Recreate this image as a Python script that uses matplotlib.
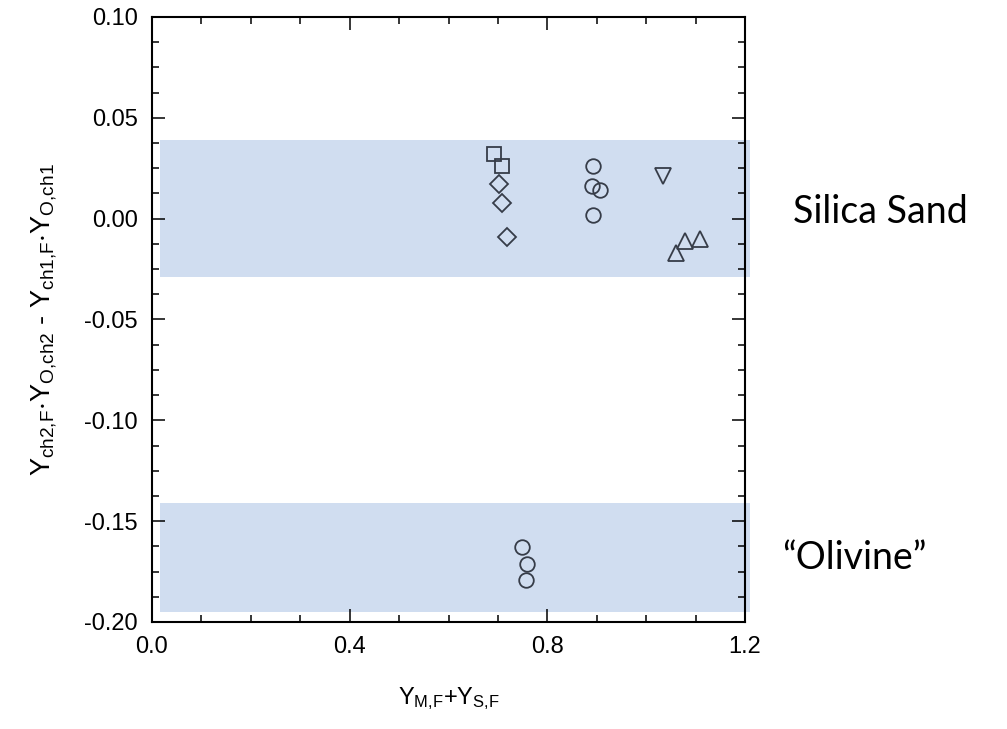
import matplotlib
matplotlib.use("Agg")
import matplotlib.pyplot as plt
from matplotlib.ticker import MultipleLocator

plt.rcParams['font.family'] = ['Liberation Sans', 'DejaVu Sans']
plt.rcParams['mathtext.fontset'] = 'custom'
plt.rcParams['mathtext.rm'] = 'Liberation Sans'
plt.rcParams['mathtext.it'] = 'Liberation Sans'

# data
sq_x = [0.692, 0.708]
sq_y = [0.032, 0.026]
dia_x = [0.702, 0.708, 0.718]
dia_y = [0.017, 0.008, -0.009]
circ_x = [0.892, 0.890, 0.906, 0.892]
circ_y = [0.026, 0.016, 0.014, 0.002]
tdown_x = [1.034]
tdown_y = [0.021]
tup_x = [1.060, 1.078, 1.109]
tup_y = [-0.017, -0.011, -0.010]
oliv_x = [0.749, 0.759, 0.757]
oliv_y = [-0.163, -0.171, -0.179]

bands = [(0.0388, -0.0288), (-0.141, -0.195)]
band_x = (0.016, 1.21)
band_labels = ["Silica Sand", "\u201cOlivine\u201d"]

fig = plt.figure(figsize=(10.07, 7.29), dpi=100)
ax = fig.add_axes([152/1007, 1 - 622/729, (745-152)/1007, (622-17)/729])

for top, bot in bands:
    ax.fill_between(band_x, bot, top, color='#d0ddf0', lw=0, clip_on=False, zorder=0)

ec = '#363c48'
kw = dict(ls='none', mfc='none', mec=ec, mew=1.3, zorder=3)
ax.plot(sq_x, sq_y, marker='s', ms=10, **kw)
ax.plot(dia_x, dia_y, marker='D', ms=9.5, **kw)
ax.plot(circ_x, circ_y, marker='o', ms=10.5, **kw)
ax.plot(tdown_x, tdown_y, marker='v', ms=11, **kw)
ax.plot(tup_x, tup_y, marker='^', ms=11, **kw)
ax.plot(oliv_x, oliv_y, marker='o', ms=10.5, **kw)

ax.set_xlim(0, 1.2)
ax.set_ylim(-0.20, 0.10)
ax.xaxis.set_major_locator(MultipleLocator(0.4))
ax.xaxis.set_minor_locator(MultipleLocator(0.1))
ax.yaxis.set_major_locator(MultipleLocator(0.05))
ax.yaxis.set_minor_locator(MultipleLocator(0.0125))
ax.xaxis.set_major_formatter(plt.FuncFormatter(lambda v, p: f"{v:.1f}"))
ax.yaxis.set_major_formatter(plt.FuncFormatter(lambda v, p: f"{v:.2f}"))

ax.tick_params(which='both', direction='in', top=True, right=True, width=1.1, labelsize=17)
ax.tick_params(which='major', length=9.5, pad=10)
ax.tick_params(which='minor', length=5)
ax.tick_params(axis='x', pad=10)
for s in ax.spines.values():
    s.set_linewidth(1.5)

ax.set_xlabel(r'$\mathregular{Y_{M{,}F}{+}Y_{S{,}F}}$', fontsize=17, labelpad=20)
ax.set_ylabel(r'$\mathregular{Y_{ch2{,}F}{\cdot}Y_{O{,}ch2}}$ - '
              r'$\mathregular{Y_{ch1{,}F}{\cdot}Y_{O{,}ch1}}$',
              fontsize=19.5, labelpad=18)

fig.text(793/1007, 1 - 212/729, band_labels[0], fontsize=27, family='Lato', va='center')
fig.text(782/1007, 1 - 558/729, band_labels[1], fontsize=27, family='Lato', va='center')

fig.savefig("out.png", dpi=100)
